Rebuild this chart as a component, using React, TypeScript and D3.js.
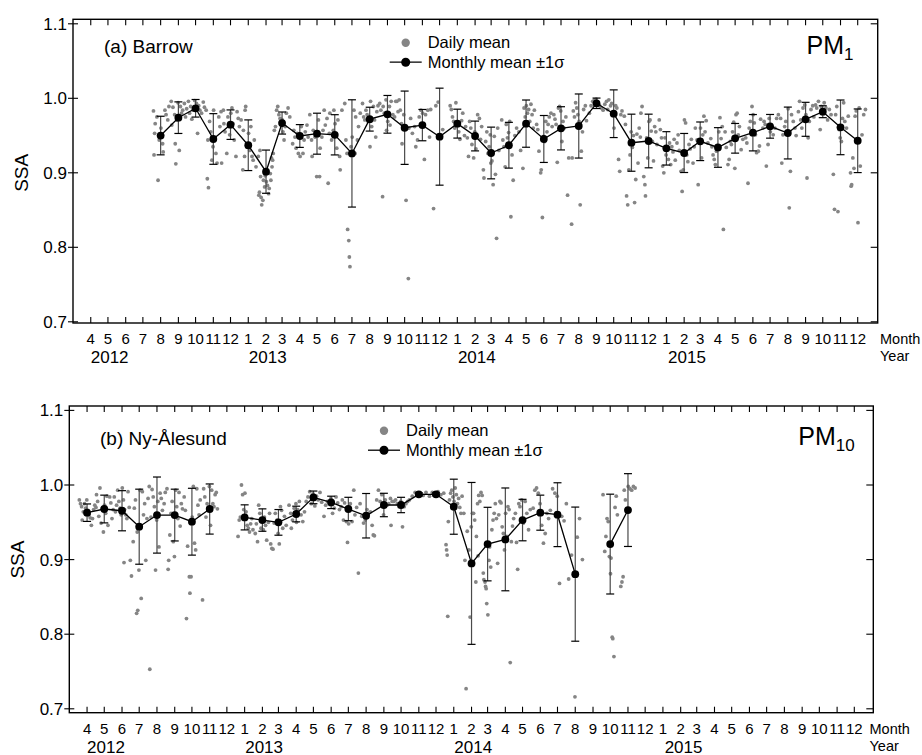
import React from "react";
import * as d3 from "d3";

// ---------- data ----------
type DayRow = [string, [number, number][]];

// Barrow PM1: monthly mean SSA and standard deviation
const barrowMonths = [
  "2012-08", "2012-09", "2012-10", "2012-11", "2012-12",
  "2013-01", "2013-02", "2013-03", "2013-04", "2013-05", "2013-06", "2013-07", "2013-08", "2013-09", "2013-10", "2013-11", "2013-12",
  "2014-01", "2014-02", "2014-03", "2014-04", "2014-05", "2014-06", "2014-07", "2014-08", "2014-09", "2014-10", "2014-11", "2014-12",
  "2015-01", "2015-02", "2015-03", "2015-04", "2015-05", "2015-06", "2015-07", "2015-08", "2015-09", "2015-10", "2015-11", "2015-12",
];
const barrowMean = [
  0.950, 0.974, 0.9866, 0.9454, 0.9646,
  0.937, 0.9015, 0.9668, 0.9494, 0.9525, 0.951, 0.926, 0.972, 0.9785, 0.9605, 0.964, 0.9485,
  0.966, 0.9494, 0.9266, 0.937, 0.966, 0.9454, 0.9597, 0.9628, 0.9933, 0.9793, 0.9404, 0.9427,
  0.9328, 0.9266, 0.9423, 0.934, 0.9463, 0.9538, 0.9624, 0.9534, 0.9718, 0.982, 0.961, 0.943,
];
const barrowSd = [
  0.0259, 0.0212, 0.0118, 0.034, 0.0198,
  0.034, 0.029, 0.0148, 0.0153, 0.0275, 0.027, 0.072, 0.016, 0.0253, 0.0492, 0.021, 0.0651,
  0.0194, 0.020, 0.0347, 0.0307, 0.0317, 0.0315, 0.029, 0.043, 0.007, 0.032, 0.0383, 0.036,
  0.0224, 0.0262, 0.0259, 0.0266, 0.0199, 0.0244, 0.0159, 0.0348, 0.0228, 0.008, 0.0367, 0.0427,
];

// Barrow PM1: daily mean SSA, [day of month, SSA]
const barrowDaily: DayRow[] = [
  ["2012-08", [[2, .983], [3, .924], [4, .953], [5, .966], [8, .975], [10, .890], [12, .944], [15, .960], [18, .939], [19, .928], [22, .984], [24, .978], [27, .971], [29, .989]]],
  ["2012-09", [[2, .996], [3, .964], [5, .988], [8, .978], [9, .939], [10, .912], [12, .971], [14, .994], [16, .930], [18, .989], [20, .980], [22, .984], [25, .993], [27, .975], [29, .986]]],
  ["2012-10", [[2, .996], [4, .980], [6, .989], [8, .972], [10, .984], [13, .997], [16, .993], [18, .953], [20, .990], [22, .984], [25, .980], [28, .995], [30, .988]]],
  ["2012-11", [[2, .984], [4, .892], [5, .944], [6, .880], [8, .969], [10, .955], [12, .917], [14, .935], [15, .984], [17, .944], [19, .926], [21, .913], [24, .975], [26, .962], [28, .982], [29, .913]]],
  ["2012-12", [[2, .984], [3, .966], [5, .955], [8, .926], [10, .975], [13, .951], [15, .980], [17, .987], [19, .966], [21, .944], [24, .922], [26, .982], [28, .973], [30, .962]]],
  ["2013-01", [[2, .971], [5, .904], [6, .957], [8, .922], [9, .984], [10, .989], [12, .935], [15, .953], [17, .930], [19, .962], [21, .922], [23, .917], [25, .944], [28, .908]]],
  ["2013-02", [[1, .922], [2, .870], [3, .874], [4, .930], [5, .895], [6, .867], [7, .857], [9, .863], [10, .890], [12, .881], [13, .896], [15, .888], [17, .883], [19, .872], [20, .879], [22, .899], [23, .890], [24, .920], [25, .908], [26, .917], [27, .926]]],
  ["2013-03", [[1, .957], [3, .962], [5, .984], [7, .989], [9, .978], [11, .973], [13, .964], [15, .971], [16, .955], [18, .944], [20, .962], [22, .980], [25, .987], [28, .975]]],
  ["2013-04", [[2, .939], [4, .957], [6, .948], [8, .933], [10, .953], [12, .926], [15, .922], [17, .962], [20, .926], [22, .944], [24, .955], [27, .964], [29, .948]]],
  ["2013-05", [[2, .978], [5, .944], [6, .922], [8, .957], [11, .948], [14, .895], [17, .971], [19, .895], [20, .933], [23, .948], [25, .957], [27, .984], [29, .964]]],
  ["2013-06", [[1, .973], [3, .886], [5, .953], [6, .980], [9, .944], [12, .957], [13, .984], [15, .966], [18, .933], [20, .971], [23, .922], [24, .904], [27, .984]]],
  ["2013-07", [[2, .993], [4, .944], [6, .926], [7, .824], [9, .809], [10, .787], [11, .774], [13, .935], [15, .948], [18, .984], [20, .926], [21, .975], [24, .944], [26, .962], [29, .980]]],
  ["2013-08", [[2, .993], [4, .975], [6, .971], [8, .984], [10, .978], [12, .969], [15, .935], [16, .996], [18, .962], [21, .989], [23, .971], [25, .948], [27, .982], [29, .990]]],
  ["2013-09", [[1, .993], [3, .984], [6, .868], [7, .989], [9, .980], [12, .998], [13, .957], [15, .969], [18, .989], [19, .964], [21, .996], [24, .978], [27, .975], [29, .996]]],
  ["2013-10", [[1, .996], [3, .982], [5, .998], [7, .984], [9, .966], [10, .939], [13, .978], [17, .863], [21, .758], [22, .960], [25, .973], [28, .953]]],
  ["2013-11", [[1, .962], [3, .935], [6, .944], [9, .975], [12, .984], [15, .980], [18, .918], [20, .978], [24, .984], [27, .948], [29, .985]]],
  ["2013-12", [[4, .852], [8, .990], [12, .995], [20, .958]]],
  ["2014-01", [[2, .990], [4, .985], [6, .975], [8, .969], [10, .960], [12, .994], [15, .965], [17, .955], [19, .945], [22, .970], [24, .980], [27, .950], [29, .962]]],
  ["2014-02", [[1, .947], [3, .922], [5, .969], [7, .960], [9, .938], [12, .920], [14, .955], [16, .932], [19, .978], [22, .973], [24, .945], [26, .962]]],
  ["2014-03", [[1, .904], [2, .893], [5, .942], [7, .955], [9, .926], [11, .935], [13, .951], [14, .913], [16, .916], [18, .884], [20, .949], [22, .898], [24, .812], [26, .960], [28, .930]]],
  ["2014-04", [[2, .971], [4, .944], [6, .935], [8, .908], [10, .965], [12, .947], [14, .954], [16, .969], [18, .841], [20, .924], [22, .890], [25, .950], [28, .960]]],
  ["2014-05", [[2, .955], [5, .930], [9, .906], [11, .987], [13, .975], [15, .990], [17, .980], [19, .985], [21, .969], [23, .992], [25, .978], [27, .960], [29, .984]]],
  ["2014-06", [[2, .965], [4, .958], [6, .929], [9, .900], [10, .904], [12, .840], [14, .949], [16, .942], [18, .969], [20, .955], [22, .965], [24, .975], [27, .980], [29, .962]]],
  ["2014-07", [[2, .978], [4, .972], [6, .965], [8, .914], [10, .987], [12, .989], [14, .983], [16, .942], [18, .969], [20, .960], [23, .975], [26, .870], [28, .920]]],
  ["2014-08", [[2, .831], [3, .920], [5, .983], [7, .975], [9, .994], [11, .987], [13, .978], [15, .969], [17, .857], [19, .929], [21, .955], [23, .985], [26, .990], [28, .970]]],
  ["2014-09", [[2, .980], [5, .990], [8, .996], [11, .998], [14, .999], [17, .994], [20, .990], [23, .987], [26, .984], [29, .992]]],
  ["2014-10", [[2, .996], [4, .985], [6, .998], [9, .990], [11, .993], [13, .978], [15, .960], [18, .990], [20, .987], [23, .918], [25, .902], [27, .978], [29, .983]]],
  ["2014-11", [[2, .976], [4, .965], [6, .869], [8, .857], [10, .904], [12, .924], [14, .955], [16, .934], [18, .950], [20, .860], [22, .891], [24, .952], [26, .913], [28, .960], [30, .948]]],
  ["2014-12", [[1, .980], [3, .989], [6, .895], [8, .884], [9, .869], [11, .947], [13, .920], [15, .969], [17, .971], [19, .956], [21, .942], [23, .916], [25, .962], [27, .955], [29, .938]]],
  ["2015-01", [[2, .971], [4, .958], [6, .947], [8, .909], [10, .900], [12, .947], [14, .924], [16, .933], [18, .918], [20, .940], [22, .911], [24, .935], [26, .928], [28, .945], [30, .917]]],
  ["2015-02", [[2, .940], [4, .951], [6, .930], [9, .902], [11, .875], [13, .904], [15, .971], [17, .967], [19, .924], [21, .915], [23, .938], [25, .932], [27, .945]]],
  ["2015-03", [[2, .913], [4, .935], [6, .960], [9, .944], [11, .884], [13, .944], [15, .960], [17, .920], [19, .951], [21, .976], [23, .955], [25, .970], [28, .940]]],
  ["2015-04", [[2, .946], [4, .935], [6, .924], [8, .918], [10, .911], [12, .929], [14, .936], [16, .955], [18, .974], [20, .946], [22, .962], [24, .824], [27, .955], [29, .934]]],
  ["2015-05", [[2, .911], [4, .918], [6, .942], [8, .938], [10, .955], [12, .968], [14, .906], [16, .978], [18, .980], [20, .951], [22, .962], [25, .931], [28, .945]]],
  ["2015-06", [[2, .947], [4, .940], [6, .886], [8, .960], [10, .969], [13, .989], [15, .978], [17, .967], [19, .951], [21, .927], [24, .929], [26, .936], [28, .972]]],
  ["2015-07", [[2, .960], [4, .969], [6, .965], [8, .909], [11, .938], [13, .973], [15, .955], [17, .961], [20, .951], [23, .960], [26, .973], [29, .978]]],
  ["2015-08", [[2, .973], [4, .913], [6, .951], [9, .962], [11, .969], [13, .955], [15, .986], [17, .853], [19, .902], [21, .978], [24, .969], [27, .960], [29, .950]]],
  ["2015-09", [[2, .982], [4, .996], [6, .971], [8, .960], [10, .987], [13, .991], [15, .978], [17, .893], [19, .947], [21, .969], [24, .985], [27, .990], [29, .975]]],
  ["2015-10", [[2, .991], [4, .987], [7, .996], [10, .958], [12, .989], [14, .983], [17, .994], [20, .987], [23, .971], [26, .985], [29, .978]]],
  ["2015-11", [[2, .898], [4, .851], [6, .978], [8, .989], [10, .848], [12, .958], [14, .947], [16, .942], [18, .973], [20, .994], [22, .969], [25, .960], [28, .976]]],
  ["2015-12", [[2, .900], [3, .882], [4, .884], [6, .920], [8, .906], [10, .976], [12, .983], [15, .833], [17, .987], [19, .909], [22, .951], [25, .978], [28, .985]]],
];

// Ny-Ålesund PM10: monthly mean SSA and standard deviation (null = no data)
const nyMonths = [
  "2012-04", "2012-05", "2012-06", "2012-07", "2012-08", "2012-09", "2012-10", "2012-11", "2012-12",
  "2013-01", "2013-02", "2013-03", "2013-04", "2013-05", "2013-06", "2013-07", "2013-08", "2013-09", "2013-10", "2013-11", "2013-12",
  "2014-01", "2014-02", "2014-03", "2014-04", "2014-05", "2014-06", "2014-07", "2014-08", "2014-09", "2014-10", "2014-11",
];
const nyMean: (number | null)[] = [
  0.9629, 0.9678, 0.9655, 0.9441, 0.9597, 0.9597, 0.9508, 0.9678, null,
  0.9566, 0.953, 0.9499, 0.9611, 0.9834, 0.9767, 0.9678, 0.9588, 0.9732, 0.9732, 0.9875, 0.9875,
  0.9709, 0.8949, 0.9208, 0.9271, 0.953, 0.9629, 0.9602, 0.8805, null, 0.9208, 0.9664,
];
const nySd: (number | null)[] = [
  0.0117, 0.0186, 0.0269, 0.0503, 0.051, 0.0347, 0.0448, 0.0336, null,
  0.0168, 0.015, 0.0172, 0.0105, 0.0085, 0.0083, 0.0157, 0.0298, 0.0157, 0.0103, 0.002, 0.002,
  0.0369, 0.1085, 0.0493, 0.0689, 0.0278, 0.0235, 0.0428, 0.0899, null, 0.0669, 0.0488,
];

// Ny-Ålesund PM10: daily mean SSA, [day of month, SSA]
const nyDaily: DayRow[] = [
  ["2012-04", [[1, .980], [3, .975], [5, .971], [6, .953], [8, .964], [10, .975], [12, .969], [14, .980], [16, .966], [18, .960], [20, .956], [22, .946], [24, .955], [26, .967], [28, .973], [30, .970]]],
  ["2012-05", [[1, .987], [3, .978], [5, .958], [7, .996], [9, .949], [11, .969], [13, .937], [15, .973], [17, .962], [19, .985], [21, .946], [24, .984], [26, .976], [28, .955], [30, .967]]],
  ["2012-06", [[1, .984], [3, .964], [5, .973], [7, .993], [9, .978], [11, .969], [13, .960], [15, .996], [17, .980], [18, .896], [19, .967], [21, .960], [23, .955], [25, .991], [27, .970], [29, .899]]],
  ["2012-07", [[1, .878], [4, .924], [6, .969], [8, .980], [10, .828], [11, .937], [12, .832], [14, .886], [16, .993], [18, .848], [20, .991], [22, .960], [24, .975], [26, .899], [28, .955], [30, .982]]],
  ["2012-08", [[1, .998], [2, .753], [4, .957], [6, .994], [8, .984], [10, .971], [12, .886], [14, .953], [16, .978], [18, .917], [20, .989], [22, .982], [24, .966], [27, .975], [29, .990]]],
  ["2012-09", [[1, .995], [3, .887], [4, .899], [6, .933], [8, .962], [10, .978], [12, .924], [14, .904], [16, .993], [18, .971], [20, .955], [22, .990], [24, .945], [26, .975], [28, .968]]],
  ["2012-10", [[1, .984], [3, .966], [5, .821], [7, .918], [10, .877], [11, .855], [13, .877], [15, .957], [17, .998], [19, .922], [21, .913], [23, .995], [25, .973], [27, .960], [29, .980]]],
  ["2012-11", [[2, .846], [4, .995], [6, .984], [8, .957], [10, .975], [12, .966], [14, .998], [16, .946], [18, .993], [20, .975], [22, .971], [24, .987], [26, .990], [28, .968]]],
  ["2013-01", [[3, .931], [5, .953], [7, .957], [9, 1.0], [11, .987], [13, .967], [15, .989], [17, .964], [19, .946], [21, .942], [23, .937], [25, .948], [27, .955], [29, .940]]],
  ["2013-02", [[2, .935], [4, .948], [6, .924], [8, .973], [10, .962], [12, .942], [14, .955], [16, .940], [18, .957], [20, .946], [22, .926], [25, .950], [27, .962]]],
  ["2013-03", [[1, .921], [3, .915], [5, .914], [7, .949], [9, .962], [12, .953], [14, .935], [16, .921], [18, .971], [20, .966], [22, .942], [25, .958], [28, .946]]],
  ["2013-04", [[2, .973], [5, .962], [6, .942], [8, .953], [11, .969], [14, .975], [15, .950], [17, .967], [20, .978], [23, .960], [26, .951], [29, .964]]],
  ["2013-05", [[2, .978], [5, .984], [8, .991], [11, .975], [14, .988], [17, .972], [20, .985], [23, .980], [26, .990], [29, .977]]],
  ["2013-06", [[2, .958], [5, .973], [8, .978], [11, .976], [14, .982], [17, .962], [20, .969], [23, .984], [26, .976], [29, .967]]],
  ["2013-07", [[2, .971], [4, .980], [6, .953], [8, .976], [11, .951], [13, .923], [15, .948], [18, .975], [21, .951], [24, .993], [26, .960], [29, .970]]],
  ["2013-08", [[1, .882], [4, .975], [7, .958], [10, .949], [13, .953], [16, .967], [19, .962], [22, .964], [25, .946], [27, .933], [29, .932]]],
  ["2013-09", [[2, .980], [5, .993], [8, .978], [11, .987], [14, .960], [17, .980], [20, .973], [23, .975], [26, .982], [27, .946], [29, .978]]],
  ["2013-10", [[2, .978], [5, .980], [8, .975], [11, .971], [14, .978], [17, .944], [20, .971], [23, .975], [26, .978], [29, .980]]],
  ["2013-11", [[3, .985], [8, .990], [12, .987], [17, .989], [22, .986], [27, .990]]],
  ["2013-12", [[3, .985], [8, .990], [13, .988], [18, .991], [23, .987], [28, .989]]],
  ["2014-01", [[1, .920], [2, .913], [3, .906], [4, .824], [5, .951], [7, .980], [9, .989], [11, .993], [13, .984], [15, .978], [17, .996], [19, .987], [21, .975], [23, .982], [25, .970], [27, .962], [29, .985]]],
  ["2014-02", [[1, .962], [3, .899], [5, .727], [7, .938], [10, .913], [12, .823], [14, .944], [16, .962], [18, .962], [20, .953], [22, .870], [23, .931], [25, .975], [26, .905], [27, .986]]],
  ["2014-03", [[1, .978], [3, .990], [5, .986], [7, .882], [8, .873], [10, .870], [11, .864], [12, .861], [13, .841], [15, .826], [17, .899], [18, .917], [20, .890], [22, .940], [24, .953], [26, .962], [28, .975], [30, .955]]],
  ["2014-04", [[1, .895], [3, .960], [5, .978], [7, .976], [9, .944], [11, .935], [13, .913], [15, .962], [17, .931], [19, .971], [21, .967], [23, .762], [25, .924], [27, .945], [29, .955]]],
  ["2014-05", [[2, .962], [4, .923], [6, .887], [8, .975], [10, .971], [13, .980], [16, .949], [19, .978], [22, .962], [25, .940], [28, .967]]],
  ["2014-06", [[2, .969], [5, .993], [8, .996], [11, .989], [14, .975], [17, .946], [20, .922], [23, .935], [26, .962], [29, .955]]],
  ["2014-07", [[2, .966], [6, .995], [10, .989], [14, .985], [18, .868], [22, .958], [26, .952], [30, .975]]],
  ["2014-08", [[3, .874], [8, .906], [14, .716], [18, .930], [22, .955], [27, .900]]],
  ["2014-10", [[2, .987], [5, .911], [7, .931], [9, .955], [11, .951], [13, .904], [15, .881], [16, .902], [18, .796], [19, .794], [21, .770], [23, .970], [25, .985], [27, .960]]],
  ["2014-11", [[2, .864], [4, .870], [6, .877], [8, .993], [10, .980], [13, .966], [15, .998], [18, .995], [21, .993], [24, .998], [27, .996]]],
];

const yTickValues = [0.7, 0.8, 0.9, 1.0, 1.1];
const yearLabels = ["2012", "2013", "2014", "2015"];

// ---------- helpers ----------
const FONT = "'Liberation Sans', Arial, Helvetica, sans-serif";
const parseMonth = d3.timeParse("%Y-%m");
const midMonth = (m: string) => {
  const d = parseMonth(m)!;
  return new Date(d.getFullYear(), d.getMonth(), 15);
};
const monthTicks = d3.timeMonth
  .range(new Date(2012, 3, 1), new Date(2016, 0, 1))
  .map((d) => new Date(d.getFullYear(), d.getMonth(), 15));
// year captions sit under the Feb tick (under late May for the partial first year)
const yearAnchors = [new Date(2012, 4, 18), new Date(2013, 1, 18), new Date(2014, 1, 18), new Date(2015, 1, 20)];
const fmtMonth = d3.timeFormat("%-m");

type Layout = {
  x0: number; xEnd: number; frameRight: number;
  y07: number; y11: number; frameTop: number; frameBottom: number;
  legendX: number; legendY: number;
  titleX: number; titleY: number; pmX: number; pmY: number;
  unitX: number;
};

function Panel({ L, title, pmSub, months, mean, sd, daily }: {
  L: Layout; title: string; pmSub: string; months: string[];
  mean: (number | null)[]; sd: (number | null)[]; daily: DayRow[];
}) {
  const x = d3.scaleTime().domain([new Date(2012, 2, 15), new Date(2015, 11, 15)]).range([L.x0, L.xEnd]);
  const y = d3.scaleLinear().domain([0.7, 1.1]).range([L.y07, L.y11]);

  const points = daily.flatMap(([m, list]) => {
    const d0 = parseMonth(m)!;
    return list.map(([day, v]) => ({ date: new Date(d0.getFullYear(), d0.getMonth(), day, 12), v }));
  });
  const monthly = months.map((m, i) => ({ date: midMonth(m), mean: mean[i], sd: sd[i] }));
  const valid = monthly.filter((d) => d.mean != null);
  const line = d3.line<typeof monthly[number]>()
    .defined((d) => d.mean != null)
    .x((d) => x(d.date))
    .y((d) => y(d.mean as number));

  const frameLeft = L.x0;
  const monthLabelY = L.frameBottom + 21;
  const yearLabelY = L.frameBottom + 39.8;

  return (
    <g fontFamily={FONT}>
      {/* daily means */}
      <g fill="#858585">
        {points.map((p, i) => (
          <circle key={i} cx={x(p.date)} cy={y(p.v)} r={1.9} />
        ))}
      </g>
      {/* monthly ±1σ bars */}
      <g strokeWidth={1.2}>
        {valid.map((d, i) => {
          const cx = x(d.date);
          const t = y((d.mean as number) + (d.sd as number));
          const b = y((d.mean as number) - (d.sd as number));
          return (
            <g key={i}>
              <line x1={cx} x2={cx} y1={t} y2={b} stroke="#4a4a4a" />
              <line x1={cx - 4} x2={cx + 4} y1={t} y2={t} stroke="#000" />
              <line x1={cx - 4} x2={cx + 4} y1={b} y2={b} stroke="#000" />
            </g>
          );
        })}
      </g>
      <path d={line(monthly) || ""} fill="none" stroke="#000" strokeWidth={1.3} />
      <g fill="#000">
        {valid.map((d, i) => (
          <circle key={i} cx={x(d.date)} cy={y(d.mean as number)} r={3.9} />
        ))}
      </g>

      {/* frame */}
      <rect x={frameLeft} y={L.frameTop} width={L.frameRight - frameLeft} height={L.frameBottom - L.frameTop}
        fill="none" stroke="#000" strokeWidth={1.4} />

      {/* month ticks top & bottom */}
      <g stroke="#000" strokeWidth={1.1}>
        {monthTicks.map((d, i) => (
          <g key={i}>
            <line x1={x(d)} x2={x(d)} y1={L.frameBottom} y2={L.frameBottom - 6} />
            <line x1={x(d)} x2={x(d)} y1={L.frameTop} y2={L.frameTop + 6} />
          </g>
        ))}
      </g>
      <g fontSize={15} textAnchor="middle" fill="#000">
        {monthTicks.map((d, i) => (
          <text key={i} x={x(d)} y={monthLabelY}>{fmtMonth(d)}</text>
        ))}
      </g>
      <g fontSize={17} textAnchor="middle" fill="#000">
        {yearLabels.map((t, i) => (
          <text key={t} x={x(yearAnchors[i])} y={yearLabelY}>{t}</text>
        ))}
      </g>
      <text x={L.unitX} y={monthLabelY} fontSize={14.5}>Month</text>
      <text x={L.unitX} y={yearLabelY - 1.5} fontSize={14.5}>Year</text>

      {/* SSA ticks left & right */}
      <g stroke="#000" strokeWidth={1.1}>
        {yTickValues.map((v) => (
          <g key={v}>
            <line x1={frameLeft - 5} x2={frameLeft + 5} y1={y(v)} y2={y(v)} />
            <line x1={L.frameRight - 7} x2={L.frameRight} y1={y(v)} y2={y(v)} />
          </g>
        ))}
      </g>
      <g fontSize={17} textAnchor="end" fill="#000">
        {yTickValues.map((v) => (
          <text key={v} x={frameLeft - 6} y={y(v) + 6}>{d3.format(".1f")(v)}</text>
        ))}
      </g>
      <text transform={`translate(${frameLeft - 52},${y(0.9)}) rotate(-90)`} textAnchor="middle"
        fontSize={19} dy={7}>SSA</text>

      {/* panel title and size class */}
      <text x={L.titleX} y={L.titleY} fontSize={19}>{title}</text>
      <text x={L.pmX} y={L.pmY} fontSize={25}>
        PM<tspan fontSize={17} dy={6}>{pmSub}</tspan>
      </text>

      {/* legend */}
      <circle cx={L.legendX} cy={L.legendY} r={4.2} fill="#858585" />
      <text x={L.legendX + 22} y={L.legendY + 5.5} fontSize={16.5}>Daily mean</text>
      <line x1={L.legendX - 16} x2={L.legendX + 16} y1={L.legendY + 19.5} y2={L.legendY + 19.5} stroke="#000" strokeWidth={1.3} />
      <circle cx={L.legendX} cy={L.legendY + 19.5} r={4.5} fill="#000" />
      <text x={L.legendX + 22} y={L.legendY + 25} fontSize={16.5}>Monthly mean ±1σ</text>
    </g>
  );
}

const topLayout: Layout = {
  x0: 73, xEnd: 857.7, frameRight: 877.7,
  y07: 321.8, y11: 23.8, frameTop: 19.3, frameBottom: 323,
  legendX: 405.7, legendY: 42.7,
  titleX: 104, titleY: 53, pmX: 806.5, pmY: 53.5,
  unitX: 880,
};
const bottomLayout: Layout = {
  x0: 69.3, xEnd: 854.3, frameRight: 873.3,
  y07: 708.8, y11: 410.4, frameTop: 406, frameBottom: 712.7,
  legendX: 384, legendY: 430.7,
  titleX: 100, titleY: 445, pmX: 798.3, pmY: 445,
  unitX: 869.5,
};

export default function App() {
  return (
    <svg width={922} height={755} viewBox="0 0 922 755"
      style={{ position: "absolute", left: 0, top: 0, background: "#fff" }}>
      <rect width={922} height={755} fill="#fff" />
      <Panel L={topLayout} title="(a) Barrow" pmSub="1" months={barrowMonths}
        mean={barrowMean} sd={barrowSd} daily={barrowDaily} />
      <Panel L={bottomLayout} title="(b) Ny-Ålesund" pmSub="10" months={nyMonths}
        mean={nyMean} sd={nySd} daily={nyDaily} />
    </svg>
  );
}
